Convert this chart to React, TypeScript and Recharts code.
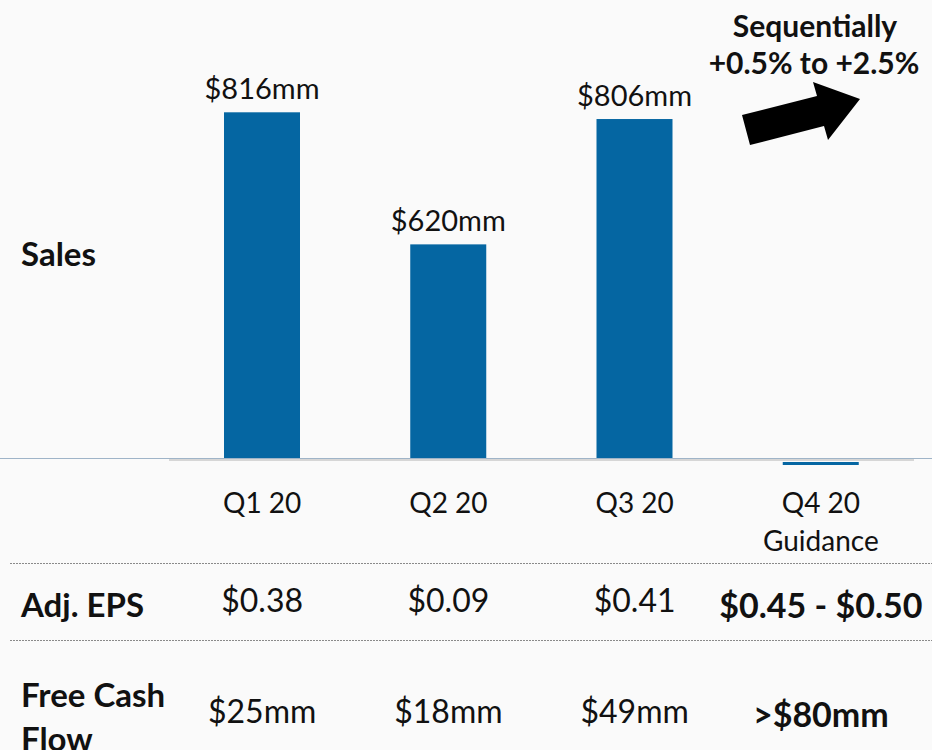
import { BarChart, Bar, XAxis, YAxis, LabelList } from 'recharts';

const quarters = ['Q1 20', 'Q2 20', 'Q3 20', 'Q4 20'];
const quarterNotes = ['', '', '', 'Guidance'];
// Q4 has no sales figure, only a sequential guidance range: sits on the axis floor
const sales = [816, 620, 806, 300];
const salesLabels = ['$816mm', '$620mm', '$806mm', ''];
const adjEps = ['$0.38', '$0.09', '$0.41', '$0.45 - $0.50'];
const freeCashFlow = ['$25mm', '$18mm', '$49mm', '>$80mm'];
const guidanceIndex = 3;
const salesDomain = [300, 950];

const data = quarters.map((q, i) => ({
  quarter: q,
  sales: sales[i],
  label: salesLabels[i],
}));

const BLUE = '#0566a2';
const FONT = 'Lato, "Open Sans", sans-serif';

function SalesBar(props: any) {
  const { x, y, width, height } = props;
  if (!height) {
    // zero-height bar: Excel-like sliver just under the axis
    return <rect x={x} y={y + 2} width={width} height={3} fill={BLUE} />;
  }
  return <rect x={x} y={y} width={width} height={height} fill={BLUE} />;
}

function TableTick(props: any) {
  const { x, y, index, payload } = props;
  const guide = index === guidanceIndex;
  return (
    <g fontFamily={FONT} fill="#111">
      <text x={x} y={y + 53} textAnchor="middle" fontSize={28}>
        {payload.value}
      </text>
      {quarterNotes[index] ? (
        <text x={x} y={y + 91} textAnchor="middle" fontSize={28}>
          {quarterNotes[index]}
        </text>
      ) : null}
      <text
        x={x}
        y={y + (guide ? 158 : 152)}
        textAnchor="middle"
        fontSize={guide ? 34 : 32}
        fontWeight={guide ? 700 : 400}
      >
        {adjEps[index]}
      </text>
      <text
        x={x}
        y={y + (guide ? 267 : 263)}
        textAnchor="middle"
        fontSize={guide ? 34 : 32}
        fontWeight={guide ? 700 : 400}
      >
        {freeCashFlow[index]}
      </text>
    </g>
  );
}

function Overlay() {
  return (
    <svg
      width={932}
      height={750}
      style={{ position: 'absolute', left: 0, top: 0, pointerEvents: 'none' }}
      fontFamily={FONT}
    >
      <line x1={0} x2={932} y1={458.5} y2={458.5} stroke="#9fb4c8" strokeWidth={1} />
      <line x1={10} x2={932} y1={563.5} y2={563.5} stroke="#8a8a8a" strokeDasharray="2 1" />
      <line x1={10} x2={932} y1={640.5} y2={640.5} stroke="#8a8a8a" strokeDasharray="2 1" />
      <g fontWeight={700} fontSize={33} fill="#111">
        <text x={21} y={266}>Sales</text>
        <text x={21} y={617}>Adj. EPS</text>
        <text x={21} y={707}>Free Cash</text>
        <text x={21} y={751}>Flow</text>
      </g>
      <g fontWeight={700} fontSize={30} fill="#111" textAnchor="middle">
        <text x={815} y={37}>Sequentially</text>
        <text x={814} y={74}>+0.5% to +2.5%</text>
      </g>
      <polygon
        points="742,115 817,96 813,82 860,99 828,140 824,126 750,145"
        fill="#000"
      />
    </svg>
  );
}

export default function App() {
  return (
    <div
      style={{
        position: 'absolute',
        left: 0,
        top: 0,
        width: 932,
        height: 750,
        background: '#fafafa',
        fontFamily: FONT,
        overflow: 'hidden',
      }}
    >
      <BarChart
        width={932}
        height={750}
        data={data}
        margin={{ top: 22, right: 18, left: 169, bottom: 0 }}
      >
        <XAxis
          dataKey="quarter"
          height={290}
          tickSize={0}
          tickMargin={0}
          tickLine={false}
          axisLine={{ stroke: '#d6d6d6', strokeWidth: 2 }}
          tick={<TableTick />}
          interval={0}
        />
        <YAxis hide domain={salesDomain} />
        <Bar
          dataKey="sales"
          barSize={76}
          fill={BLUE}
          shape={<SalesBar />}
          isAnimationActive={false}
        >
          <LabelList
            dataKey="label"
            position="top"
            offset={13}
            fill="#111"
            fontSize={29}
            fontFamily={FONT}
          />
        </Bar>
      </BarChart>
      <Overlay />
    </div>
  );
}
